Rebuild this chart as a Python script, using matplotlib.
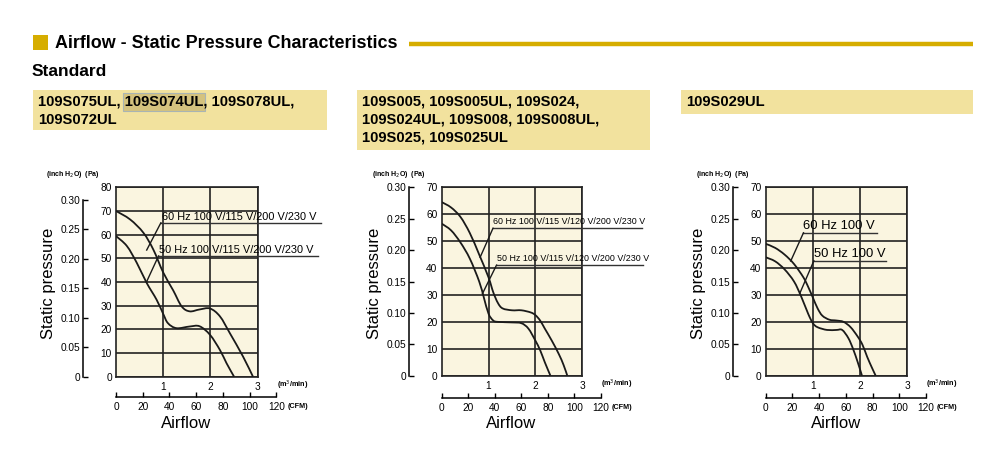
import matplotlib
matplotlib.use("Agg")
import matplotlib.pyplot as plt
from matplotlib import font_manager
from matplotlib.patches import Rectangle, PathPatch
from matplotlib.path import Path
from matplotlib.lines import Line2D

# ---------------- data ----------------
title = "Airflow - Static Pressure Characteristics"
subtitle = "Standard"
box_texts = [
    "109S075UL, 109S074UL, 109S078UL,\n109S072UL",
    "109S005, 109S005UL, 109S024,\n109S024UL, 109S008, 109S008UL,\n109S025, 109S025UL",
    "109S029UL",
]
label_60 = ["60 Hz 100 V/115 V/200 V/230 V",
            "60 Hz 100 V/115 V/120 V/200 V/230 V",
            "60 Hz 100 V"]
label_50 = ["50 Hz 100 V/115 V/200 V/230 V",
            "50 Hz 100 V/115 V/120 V/200 V/230 V",
            "50 Hz 100 V"]

pa_max = [80, 70, 70]
pa_ticks = [[0, 10, 20, 30, 40, 50, 60, 70, 80], [0, 10, 20, 30, 40, 50, 60, 70], [0, 10, 20, 30, 40, 50, 60, 70]]
inch_ticks = [0, 0.05, 0.10, 0.15, 0.20, 0.25, 0.30]
inch_tick_labels = ["0", "0.05", "0.10", "0.15", "0.20", "0.25", "0.30"]
m3_ticks = [1, 2, 3]
cfm_ticks = [0, 20, 40, 60, 80, 100, 120]

# chart 1 (m3/min, Pa)
c1_60_x = [0, 0.3, 0.58, 0.79, 1.0, 1.21, 1.39, 1.56, 1.77, 1.99, 2.2, 2.41, 2.69, 2.9]
c1_60_y = [70, 66.4, 60.8, 53.7, 44, 36.5, 29.7, 27.6, 28.4, 28.8, 25.5, 18.4, 8.5, 0]
c1_50_x = [0, 0.23, 0.44, 0.65, 0.86, 1.0, 1.1, 1.28, 1.56, 1.77, 1.99, 2.2, 2.34, 2.5]
c1_50_y = [59.4, 55.2, 48.1, 39.6, 32.5, 26.5, 22.6, 20.5, 21.2, 21.3, 17.7, 11.3, 5.7, 0]
# chart 2
c2_60_x = [0, 0.2, 0.4, 0.6, 0.8, 1.0, 1.1, 1.2, 1.3, 1.5, 1.7, 1.9, 2.0, 2.1, 2.2, 2.35, 2.5, 2.6, 2.68]
c2_60_y = [64.5, 62.5, 59, 53, 45, 36.5, 31, 27, 25, 24.3, 24.3, 23.5, 22.5, 20.5, 17.5, 13, 8, 4, 0]
c2_50_x = [0, 0.2, 0.4, 0.6, 0.8, 0.9, 1.0, 1.1, 1.2, 1.5, 1.7, 1.85, 2.0, 2.1, 2.2, 2.32]
c2_50_y = [56.5, 54, 49.5, 43.5, 35, 29, 23, 20.5, 20, 19.8, 19.5, 17.5, 13, 9.5, 5, 0]
# chart 3
c3_60_x = [0, 0.2, 0.4, 0.6, 0.8, 0.9, 1.0, 1.1, 1.2, 1.35, 1.5, 1.65, 1.8, 1.95, 2.05, 2.15, 2.25, 2.33]
c3_60_y = [49, 47.5, 45, 41.5, 36.5, 33, 29, 25, 22.3, 20.8, 20.5, 20, 18, 14.5, 11.5, 7, 3, 0]
c3_50_x = [0, 0.2, 0.4, 0.6, 0.75, 0.9, 1.0, 1.1, 1.3, 1.5, 1.62, 1.75, 1.85, 1.95, 2.04]
c3_50_y = [44, 42.5, 39.5, 35, 29.5, 23, 19.5, 18, 17, 17, 17, 14, 10, 5, 0]

curves_60 = [(c1_60_x, c1_60_y), (c2_60_x, c2_60_y), (c3_60_x, c3_60_y)]
curves_50 = [(c1_50_x, c1_50_y), (c2_50_x, c2_50_y), (c3_50_x, c3_50_y)]

# ---------------- layout (pixels) ----------------
W, H = 1000, 458
PA_PER_INCH = 249.09
M3_TO_CFM = 35.3147

charts = [
    dict(l=116, r=257.7, t=187.3, b=376.7, ix=83.3, cy=397.3),
    dict(l=441.7, r=582.3, t=187.3, b=375.7, ix=409.3, cy=398.3),
    dict(l=765.7, r=907.3, t=187.3, b=375.7, ix=733.3, cy=398.3),
]
lab60 = [
    dict(tx=0.97, ty=67.6, uy=65.0, ux0=0.95, ux1=4.33, lx=0.65, ly=53.5, fs=7.9),
    dict(tx=1.10, ty=57.2, uy=54.8, ux0=1.095, ux1=4.27, lx=0.82, ly=44.0, fs=6.4),
    dict(tx=0.80, ty=55.6, uy=53.1, ux0=0.80, ux1=2.35, lx=0.53, ly=42.6, fs=9.4),
]
lab50 = [
    dict(tx=0.92, ty=53.6, uy=51.0, ux0=0.90, ux1=4.28, lx=0.65, ly=40.2, fs=7.9),
    dict(tx=1.17, ty=43.6, uy=41.1, ux0=1.17, ux1=4.30, lx=0.87, ly=30.5, fs=6.4),
    dict(tx=1.02, ty=45.2, uy=42.7, ux0=1.02, ux1=2.55, lx=0.72, ly=30.5, fs=9.4),
]

names = {f.name for f in font_manager.fontManager.ttflist}
BASE = "Liberation Sans" if "Liberation Sans" in names else "DejaVu Sans"
plt.rcParams["font.family"] = [BASE, "DejaVu Sans"]

GOLD = "#d6ad00"
BOX = "#f2e29e"
CREAM = "#faf5e0"


def fx(px):
    return px / W


def fy(py):
    return 1 - py / H


def smooth_path(xs, ys):
    """Cubic Bezier path passing through the given points (Catmull-Rom control points)."""
    pts = list(zip(xs, ys))
    n = len(pts)
    verts = [pts[0]]
    codes = [Path.MOVETO]
    for k in range(n - 1):
        p0 = pts[k - 1] if k > 0 else pts[k]
        p1 = pts[k]
        p2 = pts[k + 1]
        p3 = pts[k + 2] if k + 2 < n else pts[k + 1]
        c1 = (p1[0] + (p2[0] - p0[0]) / 6, p1[1] + (p2[1] - p0[1]) / 6)
        c2 = (p2[0] - (p3[0] - p1[0]) / 6, p2[1] - (p3[1] - p1[1]) / 6)
        verts += [c1, c2, p2]
        codes += [Path.CURVE4] * 3
    return Path(verts, codes)


fig = plt.figure(figsize=(W / 100, H / 100), dpi=100)
fig.patch.set_facecolor("white")

# header
fig.patches.append(Rectangle((fx(33.3), fy(50)), 15 / W, 15 / H, transform=fig.transFigure,
                             facecolor=GOLD, edgecolor="none"))
fig.text(fx(55), fy(43.5), title, fontsize=12.9, fontweight="bold", va="center", ha="left")
fig.lines.append(Line2D([fx(409), fx(973)], [fy(44), fy(44)], transform=fig.transFigure,
                        color=GOLD, lw=3.2, solid_capstyle="butt"))
fig.text(fx(32), fy(71.5), subtitle, fontsize=12.5, fontweight="bold", va="center", ha="left")

# model boxes
box_rects = [(33, 90, 327, 130), (356.7, 90, 650, 150), (680.7, 90, 973.3, 114)]
for (x0, y0, x1, y1), txt in zip(box_rects, box_texts):
    fig.patches.append(Rectangle((fx(x0), fy(y1)), (x1 - x0) / W, (y1 - y0) / H,
                                 transform=fig.transFigure, facecolor=BOX, edgecolor="none",
                                 zorder=1))
    fig.text(fx(x0 + 5), fy(95), txt, fontsize=10.6, fontweight="bold", va="top", ha="left",
             linespacing=1.32, zorder=3)
# selection highlight on 109S074UL
fig.patches.append(Rectangle((fx(123), fy(110.7)), 82 / W, 18 / H, transform=fig.transFigure,
                             facecolor="#d4c27e", edgecolor="#a9b4b4", lw=0.8, zorder=2))

for i, c in enumerate(charts):
    l, r, t, b = c["l"], c["r"], c["t"], c["b"]
    ymax = pa_max[i]
    ax = fig.add_axes([fx(l), fy(b), (r - l) / W, (b - t) / H])
    ax.set_facecolor(CREAM)
    ax.set_xlim(0, 3)
    ax.set_ylim(0, ymax)
    ax.set_yticks(pa_ticks[i])
    ax.set_yticklabels([str(v) for v in pa_ticks[i]], fontsize=7.3)
    ax.set_xticks(m3_ticks)
    ax.set_xticklabels([str(v) for v in m3_ticks], fontsize=7.3)
    ax.tick_params(length=0, pad=3)
    ax.tick_params(axis="x", pad=3.5)
    ax.grid(True, color="#222222", lw=1.2)
    ax.set_axisbelow(True)
    for s in ax.spines.values():
        s.set_linewidth(1.2)
        s.set_color("#222222")
    for xs, ys in (curves_60[i], curves_50[i]):
        ax.add_patch(PathPatch(smooth_path(xs, ys), facecolor="none", edgecolor="#1a1a1a",
                               lw=1.3, zorder=3))

    for lab, txt in ((lab60[i], label_60[i]), (lab50[i], label_50[i])):
        ax.text(lab["tx"], lab["ty"], txt, fontsize=lab["fs"], va="center", ha="left",
                clip_on=False, zorder=5)
        ax.plot([lab["ux0"], lab["ux1"]], [lab["uy"], lab["uy"]], color="#333333", lw=1.0,
                clip_on=False, zorder=5)
        ax.plot([lab["lx"], lab["ux0"]], [lab["ly"], lab["uy"]], color="#1a1a1a", lw=1.0,
                clip_on=False, zorder=5)

    # inch H2O axis
    axi = fig.add_axes([fx(l), fy(b), (r - l) / W, (b - t) / H])
    axi.patch.set_visible(False)
    axi.set_ylim(0, ymax / PA_PER_INCH)
    axi.set_xlim(0, 3)
    for k in ("top", "right", "bottom"):
        axi.spines[k].set_visible(False)
    axi.spines["left"].set_position(("outward", (l - c["ix"]) * 0.72))
    axi.spines["left"].set_bounds(0, 0.30)
    axi.spines["left"].set_linewidth(1.1)
    axi.set_xticks([])
    axi.set_yticks(inch_ticks)
    axi.set_yticklabels(inch_tick_labels, fontsize=7.3)
    axi.tick_params(axis="y", direction="in", length=3.5, width=1.0, pad=2)

    # CFM axis
    cfm_right = l + (r - l) / 3 * (120 / M3_TO_CFM)
    axc = fig.add_axes([fx(l), fy(c["cy"]), (cfm_right - l) / W, 0.01])
    axc.patch.set_visible(False)
    axc.set_xlim(0, 120)
    for k in ("top", "right", "left"):
        axc.spines[k].set_visible(False)
    axc.spines["bottom"].set_linewidth(1.1)
    axc.set_yticks([])
    axc.set_xticks(cfm_ticks)
    axc.set_xticklabels([str(v) for v in cfm_ticks], fontsize=7.3)
    axc.tick_params(axis="x", direction="in", length=3.5, width=1.0, pad=3.5)

    # unit labels
    fig.text(fx(cfm_right + 11), fy(c["cy"] + 9.3), "(CFM)", fontsize=5.2, fontweight="bold",
             va="center", ha="left")
    fig.text(fx(r + 19), fy(b + 9), "(m$^3$/min)", fontsize=5.2, fontweight="bold",
             va="center", ha="left")
    fig.text(fx(c["ix"] - 37), fy(t - 12.5), "(inch H$_2$O)  (Pa)", fontsize=5.0, fontweight="bold",
             va="center", ha="left")
    fig.text(fx((l + cfm_right) / 2 - 10), fy(424), "Airflow", fontsize=12, va="center", ha="center")
    fig.text(fx(c["ix"] - 35), fy(283), "Static pressure", fontsize=12, rotation=90,
             va="center", ha="center")

fig.savefig("out.png", dpi=100, facecolor="white")
